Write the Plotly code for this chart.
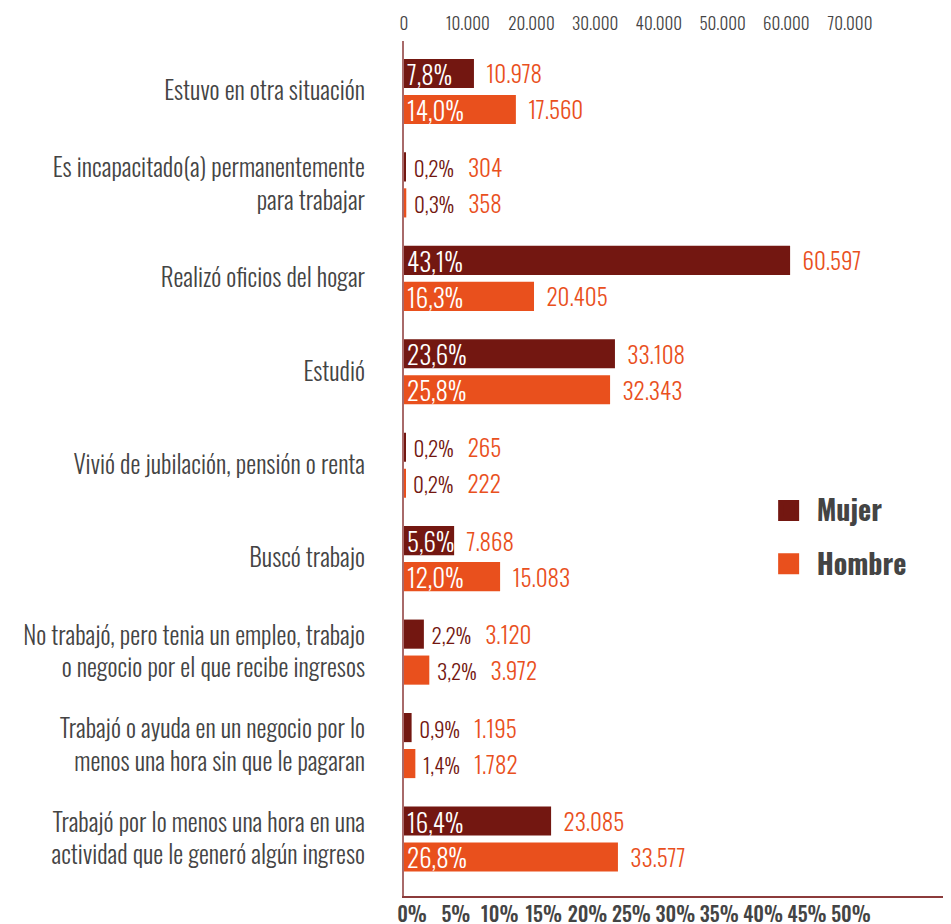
import plotly.graph_objects as go

categorias = [
    "Estuvo en otra situación",
    "Es incapacitado(a) permanentemente<br>para trabajar",
    "Realizó oficios del hogar",
    "Estudió",
    "Vivió de jubilación, pensión o renta",
    "Buscó trabajo",
    "No trabajó, pero tenia un empleo, trabajo<br>o negocio por el que recibe ingresos",
    "Trabajó o ayuda en un negocio por lo<br>menos una hora sin que le pagaran",
    "Trabajó por lo menos una hora en una<br>actividad que le generó algún ingreso",
]
mujer_n = [10978, 304, 60597, 33108, 265, 7868, 3120, 1195, 23085]
hombre_n = [17560, 358, 20405, 32343, 222, 15083, 3972, 1782, 33577]
mujer_pct = [7.8, 0.2, 43.1, 23.6, 0.2, 5.6, 2.2, 0.9, 16.4]
hombre_pct = [14.0, 0.3, 16.3, 25.8, 0.2, 12.0, 3.2, 1.4, 26.8]
count_ticks = [0, 10000, 20000, 30000, 40000, 50000, 60000, 70000]
pct_ticks = [0, 5, 10, 15, 20, 25, 30, 35, 40, 45, 50]
pct_ticktext = [f"{v}%" for v in pct_ticks]

FONT = "Oswald, 'Roboto Condensed', sans-serif"
C_M = "#731711"
C_H = "#e9501d"
GREY = "#444444"
NB = "\u00a0"


def fmt_pct(p):
    return f"{p:.1f}".replace(".", ",") + "%"


def fmt_n(n):
    return f"{n:,}".replace(",", ".")


def inside_txt(pcts):
    return [fmt_pct(p) if p >= 5 else "" for p in pcts]


def outside_txt(pcts, ns):
    out = []
    for p, n in zip(pcts, ns):
        if p >= 5:
            out.append(NB * 2 + fmt_n(n))
        else:
            out.append(NB + f"<span style='fill:{C_M};font-size:21px;font-weight:300'>{fmt_pct(p)}</span>"
                       + NB * 3 + fmt_n(n))
    return out


fig = go.Figure()
for name, ns, pcts, col, grp in [("Mujer", mujer_n, mujer_pct, C_M, "m"),
                                 ("Hombre", hombre_n, hombre_pct, C_H, "h")]:
    fig.add_trace(go.Bar(
        y=categorias, x=ns, orientation="h", name=name, offsetgroup=grp,
        marker=dict(color=col, line=dict(width=0)),
        text=inside_txt(pcts), textposition="inside", insidetextanchor="start",
        insidetextfont=dict(family=FONT, size=25, color="white", weight=300),
        constraintext="none", cliponaxis=False, showlegend=False, hoverinfo="skip",
    ))
    fig.add_trace(go.Bar(
        y=categorias, x=ns, orientation="h", name=name + " n", offsetgroup=grp,
        marker=dict(color="rgba(0,0,0,0)", line=dict(width=0)),
        text=outside_txt(pcts, ns), textposition="outside",
        outsidetextfont=dict(family=FONT, size=23, color=C_H, weight=300),
        constraintext="none", cliponaxis=False, showlegend=False, hoverinfo="skip",
    ))

for name, col, grp in [("Mujer", C_M, "m"), ("Hombre", C_H, "h")]:
    fig.add_trace(go.Scatter(
        x=[None], y=[None], mode="markers", name=name, legendgroup=grp,
        marker=dict(symbol="square", size=16, color=col, line=dict(color=col, width=5)),
    ))

fig.update_layout(
    width=943, height=916,
    margin=dict(l=396, r=0, t=33, b=28, autoexpand=False),
    paper_bgcolor="white", plot_bgcolor="white",
    separators=",.",
    barmode="group", bargap=0.23, bargroupgap=0.19,
    font=dict(family=FONT, color=GREY),
    showlegend=True,
    legend=dict(
        x=0.652, y=0.4196, xanchor="left", yanchor="middle",
        font=dict(family=FONT, size=28, color=GREY, weight="bold"),
        itemwidth=46, tracegroupgap=14, bgcolor="rgba(0,0,0,0)",
    ),
    xaxis=dict(
        side="top", range=[0, 85850], tickvals=count_ticks, tickformat=",d",
        showgrid=False, zeroline=False, showline=False, ticks="", tickangle=0,
        automargin=False,
        tickfont=dict(family=FONT, size=17, color=GREY, weight=300), ticklabelstandoff=7,
    ),
    xaxis2=dict(
        overlaying="x", side="bottom", anchor="y", range=[-0.91, 61.4],
        tickvals=pct_ticks, ticktext=pct_ticktext, tickangle=0, automargin=False,
        showgrid=False, zeroline=False, showline=True, linecolor="#8c3b3b", linewidth=2,
        ticks="", ticklen=0,
        tickfont=dict(family=FONT, size=20, color=GREY, weight=500),
    ),
    yaxis=dict(
        range=[8.61, -0.54], showgrid=False, zeroline=False, automargin=False,
        showline=True, linecolor="#a86a6a", linewidth=2, ticks="",
        tickfont=dict(family=FONT, size=25, color=GREY, weight=300), ticklabelstandoff=32,
    ),
)
fig.add_trace(go.Scatter(x=[None], y=[None], xaxis="x2", showlegend=False, hoverinfo="skip"))

fig.write_html("out.html")
